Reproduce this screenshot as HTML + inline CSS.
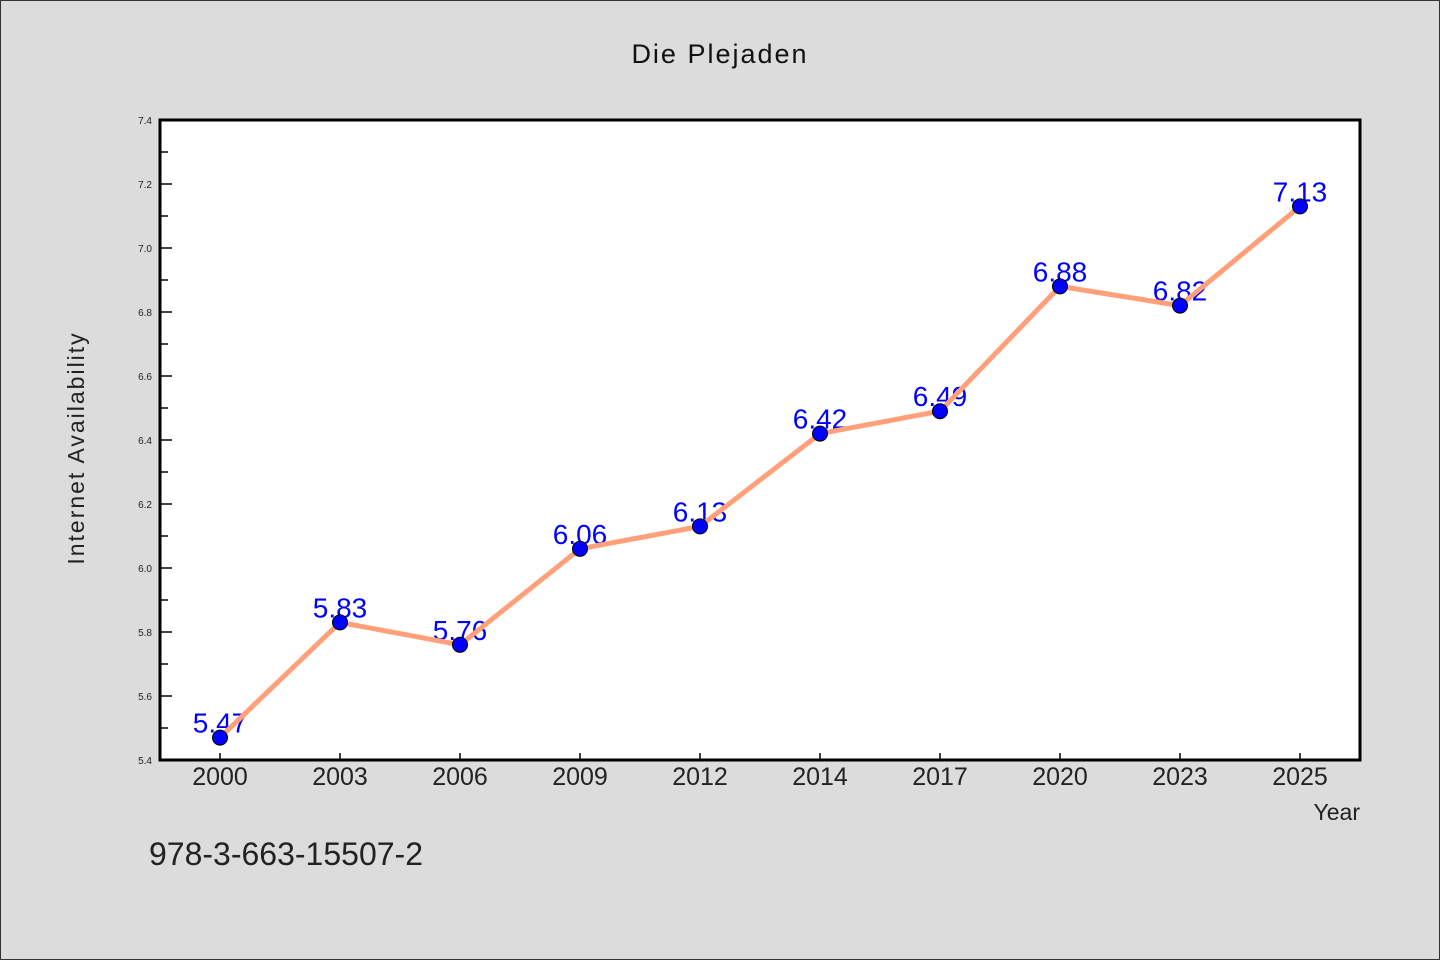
<!DOCTYPE html>
<html><head><meta charset="utf-8"><style>
body{margin:0;background:#dcdcdc;}
svg{display:block;font-family:"WenQuanYi Zen Hei","Liberation Sans",sans-serif;}
</style></head><body>
<svg id="chart" width="1440" height="960" viewBox="0 0 1440 960">
<rect x="0.5" y="0.5" width="1439" height="959" fill="#dcdcdc" stroke="#333" stroke-width="1"/>
<text x="720" y="63" text-anchor="middle" font-size="27" letter-spacing="2" fill="#111">Die Plejaden</text>
<rect x="160" y="120" width="1200" height="640" fill="#fff"/>
<g id="axes"></g>
<g id="series"></g>
<rect x="160" y="120" width="1200" height="640" fill="none" stroke="#000" stroke-width="3"/>
<text transform="translate(84,448) rotate(-90)" text-anchor="middle" font-size="23" letter-spacing="2" fill="#222">Internet Availability</text>
<text x="1360" y="820" text-anchor="end" font-size="23" fill="#222">Year</text>
<text x="149" y="865" font-size="32" fill="#222">978-3-663-15507-2</text>
</svg>
<script>
const categories=["2000","2003","2006","2009","2012","2014","2017","2020","2023","2025"];
const values=[5.47,5.83,5.76,6.06,6.13,6.42,6.49,6.88,6.82,7.13];
const yTicks=[5.4,5.6,5.8,6.0,6.2,6.4,6.6,6.8,7.0,7.2,7.4];
const NS="http://www.w3.org/2000/svg";
const L=160,R=1360,T=120,B=760,yMin=5.4,yMax=7.4;
const step=(R-L)/categories.length;
function x(i){return L+step*(i+0.5);}
function y(v){return B-(v-yMin)/(yMax-yMin)*(B-T);}
function mk(tag,attrs,parent){const e=document.createElementNS(NS,tag);for(const k in attrs)e.setAttribute(k,attrs[k]);parent.appendChild(e);return e;}
const axes=document.getElementById('axes'),ser=document.getElementById('series');
yTicks.forEach((v,i)=>{
  const t=mk('line',{x1:L,x2:L+12,y1:y(v),y2:y(v),stroke:'#000','stroke-width':1.5},axes);
  
  
  const lb=mk('text',{x:L-8,y:y(v)+4,'text-anchor':'end','font-size':10,fill:'#222'},axes);
  lb.textContent=v.toFixed(1);
  
  
  if(i<yTicks.length-1){
    const m=mk('line',{x1:L,x2:L+8,y1:y(v+0.1),y2:y(v+0.1),stroke:'#000','stroke-width':1.5},axes);
    
    
  }
});
categories.forEach((c,i)=>{
  const t=mk('line',{x1:x(i),x2:x(i),y1:B,y2:B-7,stroke:'#000','stroke-width':1.5},axes);
  
  
  const lb=mk('text',{x:x(i),y:B+25,'text-anchor':'middle','font-size':25,fill:'#222'},axes);
  lb.textContent=c;
  
  
});
values.forEach((v,i)=>{
  const lb=mk('text',{x:x(i),y:y(v)-5,'text-anchor':'middle','font-size':28,fill:'#0000ff'},ser);
  lb.textContent=v.toFixed(2);
  
  
});
const line=mk('polyline',{points:values.map((v,i)=>x(i)+','+y(v)).join(' '),fill:'none',stroke:'#ffa07a','stroke-width':5,'stroke-linejoin':'round'},ser);


values.forEach((v,i)=>{
  const c=mk('circle',{cx:x(i),cy:y(v),r:7.5,fill:'#0000ff',stroke:'#000','stroke-width':1},ser);
  
  
});
</script>
</body></html>
